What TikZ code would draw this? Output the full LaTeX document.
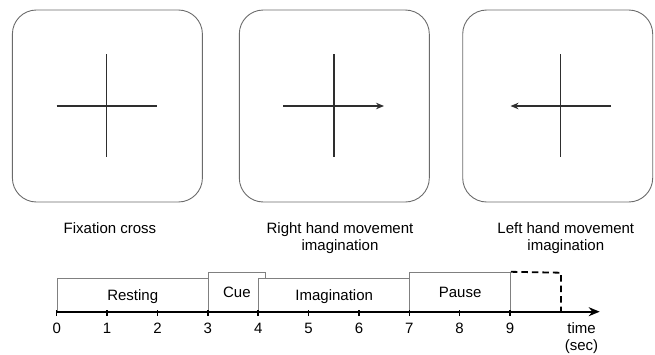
\documentclass[tikz,border=0pt]{standalone}
\usepackage{fontspec}
\setmainfont{Liberation Sans}
\usetikzlibrary{arrows.meta}
\begin{document}
\begin{tikzpicture}[x=1pt,y=-1pt,
  screen/.style={draw=black!58, line width=0.9pt, rounded corners=24pt,
    minimum width=190pt, minimum height=192pt, inner sep=0pt},
  crossline/.style={draw=black!82, line width=1.4pt},
  crossarrow/.style={crossline, -{Stealth[length=8pt,width=6.5pt]}},
  txt/.style={font=\fontsize{15}{17}\selectfont, inner sep=0pt},
  caption/.style={txt, align=center, anchor=base},
  phase/.style={txt, draw=black!50, line width=0.9pt, fill=white,
    anchor=south west, text height=10.6pt, text depth=0pt},
  pending/.style={draw=black, line width=1.8pt, dash pattern=on 6.5pt off 4pt},
  timeaxis/.style={draw=black, line width=1.9pt, -{Stealth[length=11pt,width=9pt]}},
  tick/.style={draw=black, line width=1.5pt}
]
\useasboundingbox (0,0) rectangle (655,354);

% stimulus screens
\node[screen] (s1) at (107.4,106) {};
\node[screen] (s2) at (334.3,106) {};
\node[screen] (s3) at (557.7,106) {};

% fixation cross
\coordinate (c1) at (106.7,106);
\draw[crossline] (c1) ++(-50,0) -- ++(100,0);
\draw[crossline] (c1) ++(0,-52) -- ++(0,103);

% cross with right arrow
\coordinate (c2) at (334,106);
\draw[crossarrow] (c2) ++(-51,0) -- ++(101,0);
\draw[crossline] (c2) ++(0,-52) -- ++(0,103);

% cross with left arrow
\coordinate (c3) at (560.5,106);
\draw[crossarrow] (c3) ++(50.5,0) -- ++(-100.5,0);
\draw[crossline] (c3) ++(0,-52) -- ++(0,103);

% captions (base = baseline of the last line)
\node[caption] (cap1) at (110,233.3) {Fixation cross};
\node[caption] (cap2) at (340,250.3) {Right hand movement\\imagination};
\node[caption] (cap3) at (565.8,250.3) {Left hand movement\\imagination};

% trial timeline (1 unit = 1 second)
\begin{scope}[shift={(56.7,0)}, x=50.37pt]
  \node[phase, minimum width=151.1pt, minimum height=32.7pt] (rest) at (0,311.7) {Resting};
  \node[phase, minimum width=57.3pt, minimum height=39pt] (cue) at (3,311.7) {Cue};
  \node[phase, minimum width=151.1pt, minimum height=32.7pt] (imag) at (4,311.7) {Imagination};
  \node[phase, minimum width=100.7pt, minimum height=39pt] (pause) at (7,311.7) {Pause};

  \coordinate (nexttop) at (10.01,272.7);
  \coordinate (nextbot) at (10.01,311.7);
  \draw[pending] (pause.north east) -- (nexttop) -- (nextbot);

  \coordinate (origin) at (0,311.7);
  \coordinate (axisend) at (10.78,311.7);
  \draw[timeaxis] (origin) -- (axisend);

  \foreach \k in {0,...,9} {
    \draw[tick] (\k,310) -- (\k,315.5);
    \node[txt, anchor=base] (t\k) at (\k,333.3) {\k};
  }

  \node[caption] (unit) at (10.42,350) {time\\(sec)};
\end{scope}
\end{tikzpicture}
\end{document}
